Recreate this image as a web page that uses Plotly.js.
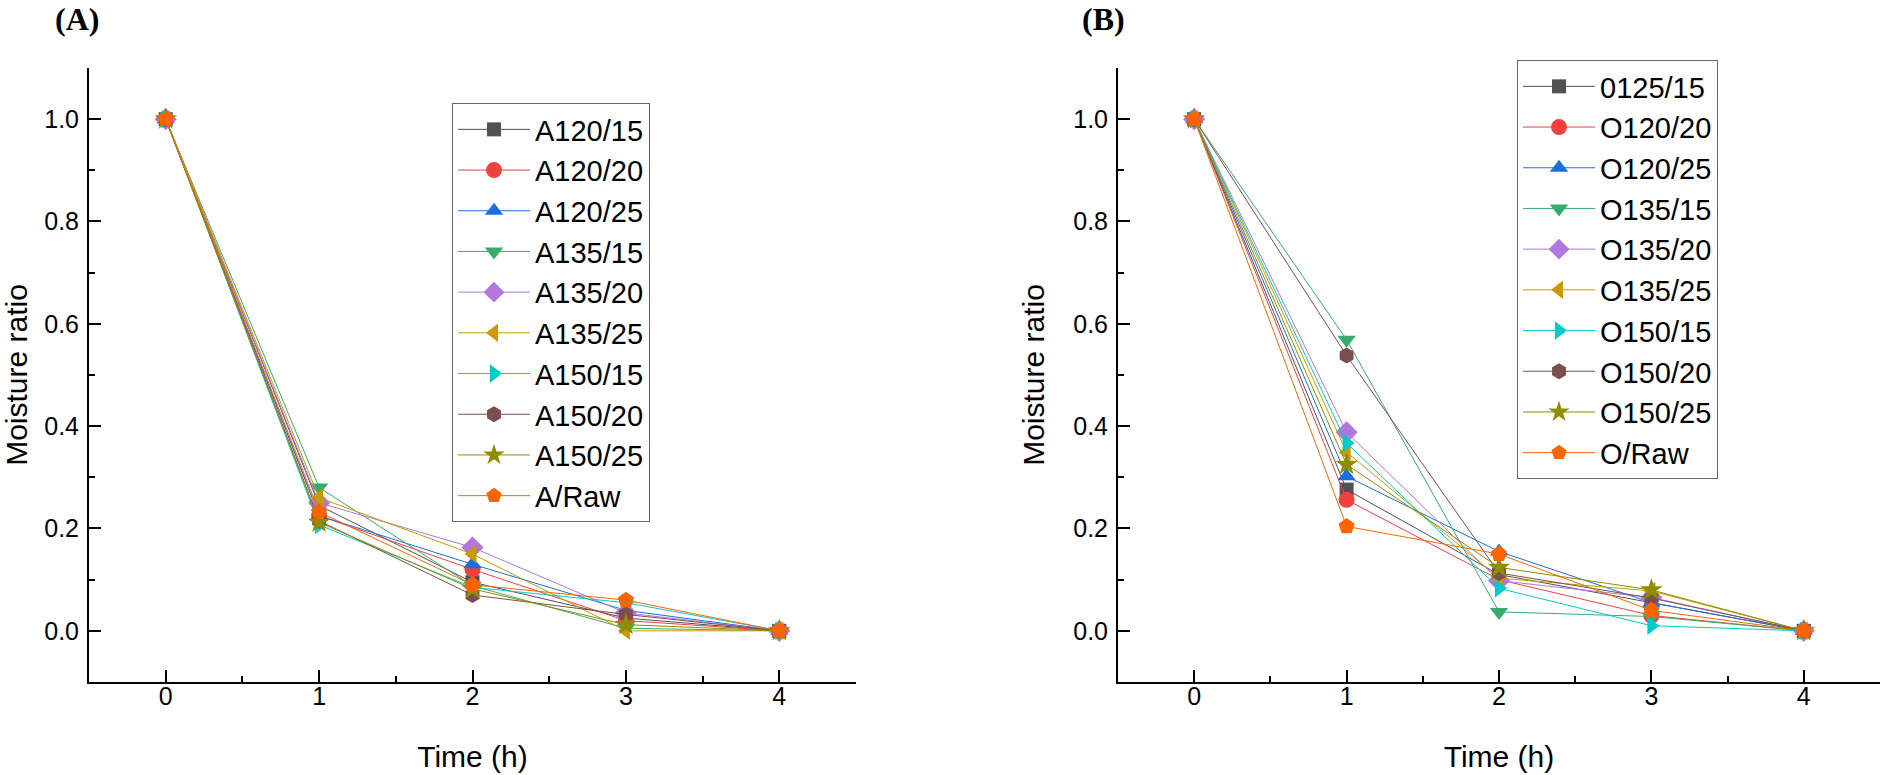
<!DOCTYPE html>
<html>
<head>
<meta charset="utf-8">
<script src="https://cdn.plot.ly/plotly-3.0.1.min.js"></script>
<style>html,body{margin:0;padding:0;background:#fff;}#chart{width:1889px;height:775px;}</style>
</head>
<body>
<div id="chart"></div>
<script>
// ---- data ----
const time = [0, 1, 2, 3, 4];

const namesA = ["A120/15", "A120/20", "A120/25", "A135/15", "A135/20", "A135/25", "A150/15", "A150/20", "A150/25", "A/Raw"];
const A120_15 = [1, 0.245, 0.095, 0.025, 0];
const A120_20 = [1, 0.225, 0.120, 0.020, 0];
const A120_25 = [1, 0.225, 0.130, 0.040, 0];
const A135_15 = [1, 0.280, 0.088, 0.005, 0];
const A135_20 = [1, 0.250, 0.163, 0.035, 0];
const A135_25 = [1, 0.260, 0.150, 0.000, 0];
const A150_15 = [1, 0.207, 0.085, 0.055, 0];
const A150_20 = [1, 0.215, 0.070, 0.032, 0];
const A150_25 = [1, 0.212, 0.082, 0.012, 0];
const A_Raw   = [1, 0.232, 0.090, 0.060, 0];

const namesB = ["0125/15", "O120/20", "O120/25", "O135/15", "O135/20", "O135/25", "O150/15", "O150/20", "O150/25", "O/Raw"];
const O125_15 = [1, 0.276, 0.110, 0.055, 0];
const O120_20 = [1, 0.256, 0.100, 0.030, 0];
const O120_25 = [1, 0.302, 0.155, 0.055, 0];
const O135_15 = [1, 0.569, 0.037, 0.028, 0];
const O135_20 = [1, 0.388, 0.098, 0.065, 0];
const O135_25 = [1, 0.349, 0.103, 0.078, 0];
const O150_15 = [1, 0.367, 0.083, 0.010, 0];
const O150_20 = [1, 0.538, 0.113, 0.064, 0];
const O150_25 = [1, 0.325, 0.124, 0.080, 0];
const O_Raw   = [1, 0.204, 0.150, 0.040, 0];

const seriesA = [A120_15, A120_20, A120_25, A135_15, A135_20, A135_25, A150_15, A150_20, A150_25, A_Raw];
const seriesB = [O125_15, O120_20, O120_25, O135_15, O135_20, O135_25, O150_15, O150_20, O150_25, O_Raw];

// ---- styles ----
const colors  = ["#515151", "#F14040", "#1A6FDF", "#37AD6B", "#B177DE", "#CC9900", "#00CBCC", "#7D4E4E", "#8E8E00", "#FB6501"];
const symbols = ["square", "circle", "triangle-up", "triangle-down", "diamond", "triangle-left", "triangle-right", "hexagon", "star", "pentagon"];
const sizes   = [14, 16, 16, 16, 17, 16, 16, 16, 17, 17];

const FONT = "Liberation Sans, Arial, sans-serif";
const traces = [];
function addSeries(names, series, xa, ya, leg) {
  series.forEach((ys, i) => {
    traces.push({
      type: "scatter", mode: "lines+markers",
      x: time, y: ys, name: names[i],
      xaxis: xa, yaxis: ya, legend: leg,
      line: {color: colors[i], width: 1},
      marker: {symbol: symbols[i], color: colors[i], size: sizes[i], line: {width: 0}}
    });
  });
}
addSeries(namesA, seriesA, "x", "y", "legend");
addSeries(namesB, seriesB, "x2", "y2", "legend2");

function xax(domain, anchor) {
  return {
    domain: domain, anchor: anchor, range: [-0.5, 4.5],
    tickmode: "linear", tick0: 0, dtick: 1,
    showline: true, linecolor: "#000", linewidth: 2,
    ticks: "inside", ticklen: 12, tickwidth: 2, tickcolor: "#000",
    minor: {ticks: "inside", ticklen: 6, tickwidth: 2, tickcolor: "#000", dtick: 0.5, tick0: 0},
    showgrid: false, zeroline: false,
    tickfont: {family: FONT, size: 25, color: "#000"},
    ticklabelstandoff: -9,
    title: {text: "Time (h)", font: {family: FONT, size: 30, color: "#000"}, standoff: 37}
  };
}
function yax(anchor) {
  return {
    domain: [0.12, 0.9123], anchor: anchor, range: [-0.1, 1.1],
    tickmode: "linear", tick0: 0, dtick: 0.2, tickformat: ".1f",
    showline: true, linecolor: "#000", linewidth: 2,
    ticks: "inside", ticklen: 12, tickwidth: 2, tickcolor: "#000",
    minor: {ticks: "inside", ticklen: 6, tickwidth: 2, tickcolor: "#000", dtick: 0.1, tick0: 0},
    showgrid: false, zeroline: false,
    tickfont: {family: FONT, size: 25, color: "#000"},
    ticklabelstandoff: 3,
    title: {text: "Moisture ratio", font: {family: FONT, size: 30, color: "#000"}, standoff: 20}
  };
}

const legendBase = {
  xanchor: "left", yanchor: "top",
  bgcolor: "#fff", bordercolor: "#666", borderwidth: 1,
  font: {family: FONT, size: 29, color: "#000"},
  itemwidth: 72, tracegroupgap: 0, itemclick: false
};

const layout = {
  width: 1889, height: 775,
  margin: {l: 0, r: 0, t: 0, b: 0},
  paper_bgcolor: "#fff", plot_bgcolor: "#fff",
  showlegend: true,
  xaxis: xax([89/1889, 856/1889], "y"),
  yaxis: yax("x"),
  xaxis2: xax([1118/1889, 1880/1889], "y2"),
  yaxis2: yax("x2"),
  legend: Object.assign({}, legendBase, {x: 452/1889, y: 1 - 103/775}),
  legend2: Object.assign({}, legendBase, {x: 1517/1889, y: 1 - 60/775}),
  annotations: [
    {text: "<b>(A)</b>", xref: "paper", yref: "paper", x: 77/1889, y: 1 - 19/775,
     xanchor: "center", yanchor: "middle", showarrow: false,
     font: {family: "Liberation Serif, Times New Roman, serif", size: 32, color: "#000"}},
    {text: "<b>(B)</b>", xref: "paper", yref: "paper", x: 1103/1889, y: 1 - 19/775,
     xanchor: "center", yanchor: "middle", showarrow: false,
     font: {family: "Liberation Serif, Times New Roman, serif", size: 32, color: "#000"}}
  ]
};

Plotly.newPlot("chart", traces, layout, {displayModeBar: false, staticPlot: true});
</script>
</body>
</html>
